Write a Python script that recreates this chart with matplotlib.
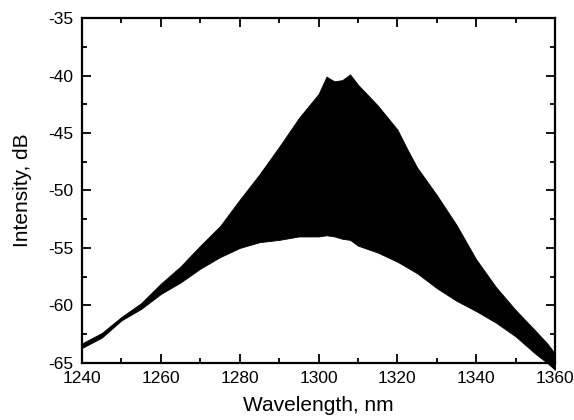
import matplotlib
matplotlib.use("Agg")
import matplotlib.pyplot as plt
from matplotlib.ticker import MultipleLocator

plt.rcParams['font.family'] = ['Liberation Sans', 'DejaVu Sans']
plt.rcParams['axes.unicode_minus'] = False

wavelength = [1240, 1245, 1250, 1255, 1260, 1265, 1270, 1275, 1280, 1285, 1290,
              1295, 1300, 1302, 1304, 1306, 1308, 1310, 1315, 1320, 1322.5, 1325, 1330,
              1335, 1340, 1345, 1350, 1355, 1358, 1360]
upper_db = [-63.3, -62.4, -61.0, -59.8, -58.1, -56.6, -54.8, -53.1, -50.8, -48.6, -46.2,
            -43.7, -41.6, -40.1, -40.5, -40.4, -39.9, -40.8, -42.6, -44.7, -46.4, -48.0, -50.4,
            -53.0, -56.0, -58.4, -60.4, -62.2, -63.3, -64.2]
lower_db = [-63.7, -62.8, -61.3, -60.3, -59.0, -58.0, -56.8, -55.8, -55.0, -54.5, -54.3,
            -54.0, -54.0, -53.9, -54.0, -54.2, -54.3, -54.8, -55.4, -56.2, -56.7, -57.2, -58.5,
            -59.6, -60.5, -61.5, -62.7, -64.2, -65.0, -65.6]

fig = plt.figure(figsize=(5.74, 4.2), dpi=100)
ax = fig.add_axes([0.143, 0.136, 0.824, 0.821])

ax.fill_between(wavelength, lower_db, upper_db, color='black', linewidth=0.6,
                edgecolor='black', clip_on=False, zorder=3)

ax.set_xlim(1240, 1360)
ax.set_ylim(-65, -35)
ax.xaxis.set_major_locator(MultipleLocator(20))
ax.xaxis.set_minor_locator(MultipleLocator(10))
ax.yaxis.set_major_locator(MultipleLocator(5))
ax.yaxis.set_minor_locator(MultipleLocator(2.5))
ax.tick_params(which='both', direction='in', top=True, right=True,
               labeltop=False, labelright=False, width=1.3, color='black')
ax.tick_params(which='major', length=6.5, labelsize=12.5)
ax.tick_params(axis='x', which='major', pad=6)
ax.tick_params(axis='y', which='major', pad=6)
ax.tick_params(which='minor', length=3.5)
for s in ax.spines.values():
    s.set_linewidth(1.6)

ax.set_xlabel('Wavelength, nm', fontsize=15, labelpad=7)
ax.set_ylabel('Intensity, dB', fontsize=15, labelpad=12)

fig.savefig('out.png', dpi=100)
